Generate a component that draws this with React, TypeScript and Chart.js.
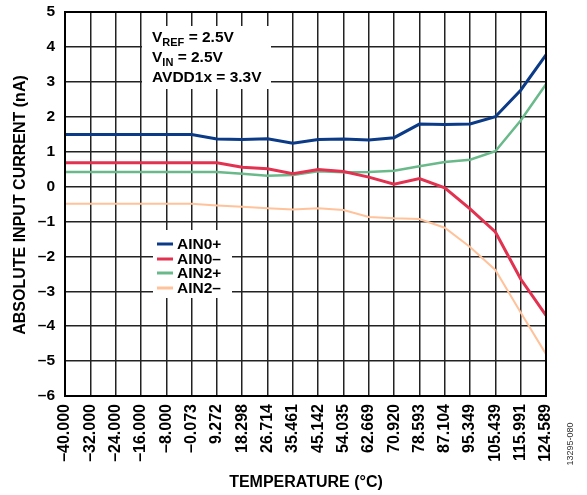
import React, { useEffect, useRef } from "react";
import { Chart, registerables } from "chart.js";

Chart.register(...registerables);

const temperatureLabels = [
  "\u201340.000", "\u201332.000", "\u201324.000", "\u201316.000", "\u20138.000", "\u20130.073",
  "9.272", "18.298", "26.714", "35.461", "45.142", "54.035", "62.669", "70.920",
  "78.593", "87.104", "95.349", "105.439", "115.991", "124.589",
];

const ain0Plus = [1.49, 1.49, 1.49, 1.49, 1.49, 1.49, 1.36, 1.35, 1.37, 1.24, 1.35, 1.36, 1.33, 1.4, 1.79, 1.78, 1.79, 2.0, 2.76, 3.77];
const ain0Minus = [0.68, 0.68, 0.68, 0.68, 0.68, 0.68, 0.68, 0.55, 0.51, 0.37, 0.49, 0.43, 0.27, 0.07, 0.23, -0.04, -0.64, -1.3, -2.65, -3.69];
const ain2Plus = [0.42, 0.42, 0.42, 0.42, 0.42, 0.42, 0.42, 0.37, 0.31, 0.33, 0.44, 0.41, 0.42, 0.45, 0.58, 0.7, 0.77, 1.01, 1.89, 2.93];
const ain2Minus = [-0.49, -0.49, -0.49, -0.49, -0.49, -0.49, -0.54, -0.58, -0.62, -0.66, -0.62, -0.67, -0.87, -0.91, -0.93, -1.18, -1.73, -2.39, -3.61, -4.8];

const seriesNames = ["AIN0+", "AIN0\u2013", "AIN2+", "AIN2\u2013"];
const seriesColors = ["#0b3a87", "#e2324f", "#6ab98a", "#ffc29a"];
const seriesWidths = [3, 3, 2.5, 2];

const yMin = -6;
const yMax = 5;

const FONT = '"Liberation Sans", Arial, Helvetica, sans-serif';

const overlayPlugin = {
  id: "overlay",
  afterDatasetsDraw(chart: any) {
    const ctx = chart.ctx;
    const area = chart.chartArea;
    ctx.save();
    // outer border
    ctx.strokeStyle = "#000";
    ctx.lineWidth = 2;
    ctx.strokeRect(area.left, area.top, area.right - area.left, area.bottom - area.top);

    // annotation box
    ctx.fillStyle = "#fff";
    ctx.fillRect(142, 26, 129, 63);
    ctx.fillStyle = "#000";
    ctx.textBaseline = "alphabetic";
    ctx.textAlign = "left";
    const big = `bold 15.5px ${FONT}`;
    const small = `bold 11px ${FONT}`;
    const drawSub = (x: number, y: number, main: string, sub: string, rest: string) => {
      ctx.font = big;
      ctx.fillText(main, x, y);
      let cx = x + ctx.measureText(main).width;
      ctx.font = small;
      ctx.fillText(sub, cx, y + 4);
      cx += ctx.measureText(sub).width;
      ctx.font = big;
      ctx.fillText(rest, cx, y);
    };
    drawSub(152, 42, "V", "REF", " = 2.5V");
    drawSub(152, 62, "V", "IN", " = 2.5V");
    ctx.font = big;
    ctx.fillText("AVDD1x = 3.3V", 152, 82);

    // legend box
    ctx.fillStyle = "#fff";
    ctx.fillRect(153, 230, 79, 68);
    const ys = [244, 259, 273, 288];
    chart.data.datasets.forEach((ds: any, i: number) => {
      ctx.strokeStyle = ds.borderColor;
      ctx.lineWidth = 3;
      ctx.beginPath();
      ctx.moveTo(157, ys[i]);
      ctx.lineTo(173, ys[i]);
      ctx.stroke();
      ctx.fillStyle = "#000";
      ctx.font = big;
      ctx.textBaseline = "middle";
      ctx.fillText(ds.label, 177, ys[i] + 1);
    });

    // axis titles
    ctx.fillStyle = "#000";
    ctx.textAlign = "center";
    ctx.textBaseline = "middle";
    ctx.font = `bold 16px ${FONT}`;
    ctx.fillText("TEMPERATURE (\u00b0C)", 306, 483);
    ctx.save();
    ctx.translate(21, 205);
    ctx.rotate(-Math.PI / 2);
    ctx.fillText("ABSOLUTE INPUT CURRENT (nA)", 0, 0);
    ctx.restore();
    ctx.save();
    ctx.translate(571, 444);
    ctx.rotate(-Math.PI / 2);
    ctx.font = `9px ${FONT}`;
    ctx.fillStyle = "#333";
    ctx.fillText("13295-080", 0, 0);
    ctx.restore();
    ctx.restore();
  },
};

const zeroPad = (s: any) => {
  s.paddingTop = 0;
  s.paddingBottom = 0;
  s.paddingLeft = 0;
  s.paddingRight = 0;
};

export default function App() {
  const canvasRef = useRef<HTMLCanvasElement | null>(null);

  useEffect(() => {
    const canvas = canvasRef.current;
    if (!canvas) return;
    const seriesData = [ain0Plus, ain0Minus, ain2Plus, ain2Minus];
    const chart = new Chart(canvas, {
      type: "line",
      data: {
        labels: temperatureLabels,
        datasets: seriesData.map((d, i) => ({
          label: seriesNames[i],
          data: d,
          borderColor: seriesColors[i],
          backgroundColor: seriesColors[i],
          borderWidth: seriesWidths[i],
          pointRadius: 0,
          tension: 0,
          fill: false,
        })),
      },
      options: {
        animation: false,
        responsive: false,
        devicePixelRatio: 1,
        layout: { padding: { top: 12, right: 41, left: 0, bottom: 0 } },
        plugins: {
          legend: { display: false },
          tooltip: { enabled: false },
        },
        scales: {
          x: {
            type: "category",
            offset: false,
            grid: { color: "#222", lineWidth: 1.5, drawTicks: false, offset: false },
            border: { display: true, color: "#000", width: 2 },
            ticks: {
              autoSkip: false,
              minRotation: 90,
              maxRotation: 90,
              padding: 8,
              color: "#000",
              font: { family: FONT, size: 16, weight: "bold" },
            },
            afterFit: (s: any) => {
              s.height = 99;
              zeroPad(s);
            },
          },
          y: {
            min: yMin,
            max: yMax,
            grid: { color: "#222", lineWidth: 1.5, drawTicks: false },
            border: { display: true, color: "#000", width: 2 },
            ticks: {
              stepSize: 1,
              padding: 10,
              color: "#000",
              font: { family: FONT, size: 15.5, weight: "bold" },
              callback: (v: any) => (Number(v) < 0 ? "\u2013" + Math.abs(Number(v)) : String(v)),
            },
            afterFit: (s: any) => {
              s.width = 65;
              zeroPad(s);
            },
          },
        },
      },
      plugins: [overlayPlugin],
    });
    return () => chart.destroy();
  }, []);

  return (
    <div style={{ position: "fixed", left: 0, top: 0, width: 587, height: 495, background: "#fff" }}>
      <canvas ref={canvasRef} width={587} height={495} style={{ width: 587, height: 495, display: "block" }} />
    </div>
  );
}
